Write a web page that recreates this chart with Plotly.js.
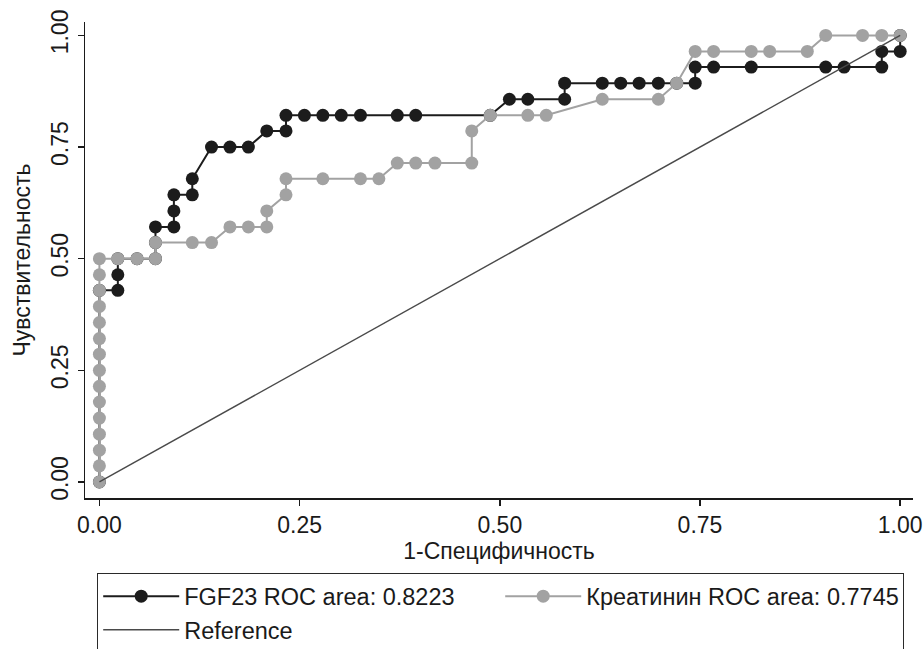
<!DOCTYPE html>
<html>
<head>
<meta charset="utf-8">
<script src="https://cdn.plot.ly/plotly-3.0.1.min.js"></script>
<style>html,body{margin:0;padding:0;background:#fff;}#chart{width:923px;height:649px;}</style>
</head>
<body>
<div id="chart"></div>
<script>
// FGF23 ROC curve (1-specificity, sensitivity)
const fgfX = [0, 0, 0.023, 0.023, 0.023, 0.047, 0.070, 0.070, 0.070, 0.093, 0.093, 0.093, 0.116, 0.116,
  0.140, 0.163, 0.186, 0.209, 0.233, 0.233, 0.256, 0.279, 0.302, 0.326, 0.372, 0.395, 0.488,
  0.512, 0.535, 0.581, 0.581, 0.628, 0.651, 0.674, 0.698, 0.721, 0.744, 0.744, 0.767, 0.814,
  0.907, 0.930, 0.977, 0.977, 1.0, 1.0];
const fgfY = [0, 0.429, 0.429, 0.464, 0.5, 0.5, 0.5, 0.536, 0.571, 0.571, 0.607, 0.643, 0.643, 0.679,
  0.75, 0.75, 0.75, 0.786, 0.786, 0.821, 0.821, 0.821, 0.821, 0.821, 0.821, 0.821, 0.821,
  0.857, 0.857, 0.857, 0.893, 0.893, 0.893, 0.893, 0.893, 0.893, 0.893, 0.929, 0.929, 0.929,
  0.929, 0.929, 0.929, 0.964, 0.964, 1.0];
// Креатинин ROC curve
const crX = [0, 0, 0, 0, 0, 0, 0, 0, 0, 0, 0, 0, 0, 0, 0,
  0.023, 0.047, 0.070, 0.070, 0.116, 0.140, 0.163, 0.186, 0.209, 0.209, 0.233, 0.233,
  0.279, 0.326, 0.349, 0.372, 0.395, 0.419, 0.465, 0.465, 0.488, 0.535, 0.558, 0.628,
  0.698, 0.721, 0.744, 0.767, 0.814, 0.837, 0.884, 0.907, 0.953, 0.977, 1.0];
const crY = [0, 0.036, 0.071, 0.107, 0.143, 0.179, 0.214, 0.25, 0.286, 0.321, 0.357, 0.393, 0.429, 0.464, 0.5,
  0.5, 0.5, 0.5, 0.536, 0.536, 0.536, 0.571, 0.571, 0.571, 0.607, 0.643, 0.679,
  0.679, 0.679, 0.679, 0.714, 0.714, 0.714, 0.714, 0.786, 0.821, 0.821, 0.821, 0.857,
  0.857, 0.893, 0.964, 0.964, 0.964, 0.964, 0.964, 1.0, 1.0, 1.0, 1.0];
// Reference line
const refX = [0, 1];
const refY = [0, 1];

const names = ['FGF23 ROC area: 0.8223', 'Креатинин ROC area: 0.7745', 'Reference'];
const tickVals = [0, 0.25, 0.5, 0.75, 1];
const tickText = ['0.00', '0.25', '0.50', '0.75', '1.00'];

const FONT = 'Liberation Sans, Arial, Helvetica, sans-serif';

const traces = [
  {x: fgfX, y: fgfY, name: names[0], type: 'scatter', mode: 'lines+markers',
   line: {color: '#1c1c1c', width: 2}, marker: {color: '#1c1c1c', size: 13}},
  {x: crX, y: crY, name: names[1], type: 'scatter', mode: 'lines+markers',
   line: {color: '#a2a2a2', width: 2}, marker: {color: '#a2a2a2', size: 13}},
  {x: refX, y: refY, name: names[2], type: 'scatter', mode: 'lines',
   line: {color: '#4a4a4a', width: 1.4}}
];

const layout = {
  width: 923, height: 649,
  margin: {l: 85, r: 10, t: 22, b: 151, autoexpand: false},
  paper_bgcolor: '#ffffff', plot_bgcolor: '#ffffff',
  font: {family: FONT, size: 23, color: '#1a1a1a'},
  showlegend: true,
  legend: {
    orientation: 'h', x: 0.0145, xanchor: 'left', y: -0.158, yanchor: 'top',
    bordercolor: '#2a2a2a', borderwidth: 1.2, bgcolor: '#ffffff',
    font: {family: FONT, size: 23.5, color: '#1a1a1a'},
    itemwidth: 76, entrywidth: 311, entrywidthmode: 'pixels',
    traceorder: 'normal'
  },
  xaxis: {
    range: [-0.018, 1.016], tickvals: tickVals, ticktext: tickText,
    showgrid: false, zeroline: false, showline: true, linecolor: '#1a1a1a', linewidth: 1.5,
    ticks: 'outside', ticklen: 6, tickwidth: 1.5, tickcolor: '#1a1a1a',
    tickfont: {family: FONT, size: 23},
    title: {text: '1-Специфичность', font: {family: FONT, size: 23}, standoff: 2}
  },
  yaxis: {
    range: [-0.036, 1.030], tickvals: tickVals, ticktext: tickText,
    showgrid: false, zeroline: false, showline: true, linecolor: '#1a1a1a', linewidth: 1.5,
    ticks: 'outside', ticklen: 6, tickwidth: 1.5, tickcolor: '#1a1a1a',
    tickangle: -90, ticklabelstandoff: 0,
    tickfont: {family: FONT, size: 23},
    title: {text: 'Чувствительность', font: {family: FONT, size: 23}, standoff: 10}
  }
};

Plotly.newPlot('chart', traces, layout, {displayModeBar: false, staticPlot: true});
</script>
</body>
</html>
